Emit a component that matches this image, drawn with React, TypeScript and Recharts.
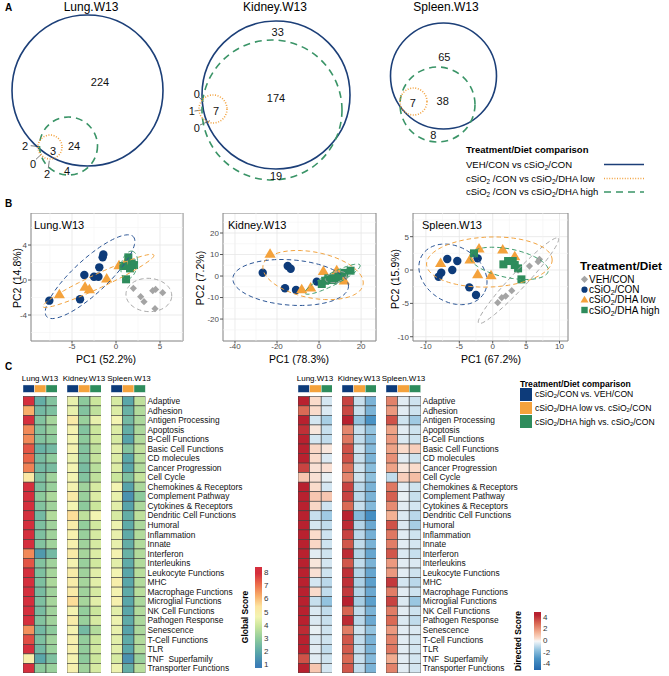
import React from "react";
import {
  ScatterChart,
  Scatter,
  XAxis,
  YAxis,
  CartesianGrid,
  ReferenceLine,
  ReferenceArea,
} from "recharts";

const FONT = '"Liberation Sans", Arial, Helvetica, sans-serif';
const NAVY = "#0D3B7A";
const ORANGE = "#F4A23C";
const GREEN = "#2E8C5C";
const GREY = "#A4A4A4";
const V_BLUE = "#1C3F78";
const V_ORANGE = "#F2A341";
const V_GREEN = "#3A9467";

// ---------- A: Venn diagrams (1 unit = 1 px inside each small chart)
const lungVenn = [
  { x: 87.5, y: 90.5, r: 75.5, set: "veh" },
  { x: 68.5, y: 146, r: 29, set: "high" },
  { x: 50, y: 147, r: 12, set: "low" },
];
const lungCounts = [
  { x: 100, y: 82, t: "224" },
  { x: 74, y: 146, t: "24" },
  { x: 53, y: 151, t: "3" },
  { x: 25, y: 146, t: "2" },
  { x: 33, y: 164, t: "0" },
  { x: 47, y: 174, t: "2" },
  { x: 67, y: 171, t: "4" },
];
const lungLeaders = [
  [30.7, 145.7, 40, 146.7],
  [36, 159.3, 41.7, 154],
  [48.3, 168.3, 49.3, 160.7],
];

const kidneyVenn = [
  { x: 91, y: 95, r: 74, set: "veh" },
  { x: 87, y: 110, r: 70, set: "high" },
  { x: 28, y: 109, r: 14, set: "low" },
];
const kidneyCounts = [
  { x: 92.7, y: 32.3, t: "33" },
  { x: 91, y: 97.7, t: "174" },
  { x: 91, y: 175.7, t: "19" },
  { x: 31, y: 111, t: "7" },
  { x: 11.7, y: 94.3, t: "0" },
  { x: 6.7, y: 111, t: "1" },
  { x: 11.7, y: 128.3, t: "0" },
];
const kidneyLeaders = [
  [14.3, 97.3, 18.3, 101.7],
  [9.5, 111, 16.7, 110],
  [15, 125, 25, 120.7],
];

const spleenVenn = [
  { x: 63.5, y: 76, r: 53, set: "veh" },
  { x: 57.5, y: 104.5, r: 37.5, set: "high" },
  { x: 33.5, y: 101.5, r: 13.5, set: "low" },
];
const spleenCounts = [
  { x: 64.3, y: 56.7, t: "65" },
  { x: 62.7, y: 101, t: "38" },
  { x: 32.7, y: 102.7, t: "7" },
  { x: 53.3, y: 135, t: "8" },
];

// ---------- B: PCA scores
const lungVeh = [
  { x: 1.97, y: -0.95 }, { x: 2.8, y: -1.9 }, { x: 3.18, y: -2.48 }, { x: 4.17, y: -1.22 },
  { x: 4.5, y: -1.07 }, { x: 5.3, y: -1.45 }, { x: 4.43, y: -3.28 },
];
const lungCon = [
  { x: -7.58, y: -2.36 }, { x: -4.09, y: -2.2 }, { x: -3.6, y: 0.57 }, { x: -2.5, y: 0.38 },
  { x: -2.0, y: 0.38 }, { x: -1.9, y: 1.45 }, { x: -1.52, y: 2.59 }, { x: -1.44, y: 2.93 },
];
const lungLow = [
  { x: -6.44, y: -1.6 }, { x: -3.52, y: -0.76 }, { x: -3.03, y: -1.03 }, { x: -1.06, y: 0.19 },
  { x: 0.34, y: 1.71 }, { x: 1.02, y: 1.9 },
];
const lungHigh = [
  { x: 0.83, y: 1.6 }, { x: 1.4, y: 2.59 }, { x: 1.78, y: 1.9 }, { x: 2.05, y: 1.71 },
  { x: 1.14, y: 0.08 }, { x: 1.59, y: 1.33 },
];
const lungEllipses = [
  { x: 3.73, y: -1.71, ux: 2.6, uy: -0.15, vx: 0.1, vy: 1.9, g: "veh" },
  { x: -2.95, y: 0.38, ux: 4.92, uy: 4.57, vx: 1.31, vy: -1.43, g: "con" },
  { x: -2.0, y: -0.1, ux: 6.3, uy: 2.95, vx: 0.33, vy: -0.73, g: "low" },
  { x: 1.5, y: 1.7, ux: 0.3, uy: 1.6, vx: 0.9, vy: -0.1, g: "high" },
];

const kidneyVeh = [
  { x: 5.5, y: -0.5 }, { x: 7.5, y: 0.4 }, { x: 9, y: -1.5 }, { x: 10.5, y: 0.2 },
  { x: 12, y: -1.0 }, { x: 8, y: -2.5 },
];
const kidneyCon = [
  { x: -26.8, y: 1.55 }, { x: -14.9, y: 4.65 }, { x: -13.5, y: 3.4 }, { x: -16.2, y: -5.7 },
  { x: -10.95, y: -6.5 }, { x: -1.1, y: -2.6 },
];
const kidneyLow = [
  { x: -23.3, y: 10.5 }, { x: -8.25, y: -6.05 }, { x: -3.97, y: -5.27 }, { x: 2.06, y: 2.48 },
  { x: 8.4, y: 2.8 }, { x: 12, y: -2 },
];
const kidneyHigh = [
  { x: 1.3, y: -3.7 }, { x: 2.9, y: -2.2 }, { x: 4.4, y: -1.1 }, { x: 6.0, y: -1.86 },
  { x: 8.1, y: -1.1 }, { x: 9.2, y: -0.3 }, { x: 12, y: 1.5 }, { x: 15, y: 2.5 },
];
const kidneyEllipses = [
  { x: 8, y: -0.5, ux: 5, uy: 1.2, vx: 0.6, vy: -2.3, g: "veh" },
  { x: -13.5, y: -3.0, ux: 27.5, uy: -2.0, vx: 0.8, vy: 10.5, g: "con" },
  { x: -2.85, y: 0.45, ux: 23.8, uy: -4.5, vx: 2, vy: 10.5, g: "low" },
  { x: 6.4, y: -1.45, ux: 13.1, uy: 6.55, vx: 1.3, vy: -2.5, g: "high" },
];

const spleenVeh = [
  { x: 0.75, y: -4.9 }, { x: 1.35, y: -4.15 }, { x: 1.95, y: -3.9 }, { x: 2.85, y: -3.1 },
  { x: 3.8, y: 0 }, { x: 5.5, y: 0.6 }, { x: 6.8, y: 1.25 }, { x: 7.0, y: 1.6 },
];
const spleenCon = [
  { x: -6.8, y: 1.65 }, { x: -5.3, y: 1.35 }, { x: -6.05, y: 0 }, { x: -7.7, y: -0.4 },
  { x: -8.1, y: -1.0 }, { x: -3.5, y: -2.6 }, { x: -2.5, y: -3.75 }, { x: -2.25, y: 1.75 },
];
const spleenLow = [
  { x: -7.8, y: 1.1 }, { x: -3.4, y: 1.6 }, { x: -2.05, y: 3.25 }, { x: -2.25, y: -0.6 },
  { x: -0.25, y: -0.75 }, { x: 1.5, y: 3.1 }, { x: 3.3, y: 2.1 },
];
const spleenHigh = [
  { x: -2.8, y: 2.5 }, { x: 1.6, y: 0.85 }, { x: 2.3, y: 1.35 }, { x: 3.0, y: 1.35 },
  { x: 3.3, y: 0.75 }, { x: 3.8, y: 0.25 }, { x: 4.3, y: -1.4 },
];
const spleenEllipses = [
  { x: 3.85, y: -1.6, ux: 5.95, uy: 6.37, vx: 0.87, vy: -0.82, g: "veh" },
  { x: -5.95, y: -0.65, ux: 4.6, uy: -2.9, vx: -2.2, vy: -3.5, g: "con" },
  { x: -0.5, y: 1.2, ux: 9.4, uy: 0.3, vx: 0, vy: 3.75, g: "low" },
  { x: 2.45, y: 1.0, ux: 5.85, uy: -1.2, vx: -0.45, vy: -2.1, g: "high" },
];

// ---------- C: heatmaps
const functions = [
  "Adaptive", "Adhesion", "Antigen Processing", "Apoptosis", "B-Cell Functions",
  "Basic Cell Functions", "CD molecules", "Cancer Progression", "Cell Cycle",
  "Chemokines & Receptors", "Complement Pathway", "Cytokines & Receptors",
  "Dendritic Cell Functions", "Humoral", "Inflammation", "Innate", "Interferon",
  "Interleukins", "Leukocyte Functions", "MHC", "Macrophage Functions",
  "Microglial Functions", "NK Cell Functions", "Pathogen Response", "Senescence",
  "T-Cell Functions", "TLR", "TNF\u00a0 Superfamily", "Transporter Functions",
];

const globalLung = [
  [8, 6.3, 8, 6.8, 6.8, 7.5, 7.3, 6.9, 5.3, 8, 8, 8, 8, 8, 8, 8, 6.8, 7.5, 8, 8, 8, 8, 8, 8, 6.7, 7.6, 8, 5.0, 8],
  [2.2, 2.5, 2.8, 2.8, 2.8, 2.3, 2.6, 2.5, 2.7, 2.7, 3.0, 2.8, 2.5, 2.7, 2.7, 2.8, 1.7, 2.8, 2.7, 2.7, 2.6, 2.7, 2.6, 2.8, 2.5, 2.7, 2.5, 2.0, 3.0],
  [2.8, 2.7, 3.4, 3.2, 3.0, 2.5, 3.0, 2.6, 3.3, 3.2, 3.5, 3.3, 3.6, 3.3, 3.3, 3.3, 2.5, 3.3, 3.4, 3.5, 3.3, 3.4, 3.3, 3.3, 3.0, 3.3, 3.2, 2.7, 3.2],
];
const globalKidney = [
  [4.5, 4.5, 5.2, 4.8, 4.7, 4.8, 4.6, 4.7, 4.7, 4.8, 5.2, 4.7, 5.6, 5.1, 4.9, 4.9, 5.2, 4.8, 5.1, 5.1, 5.2, 5.6, 4.8, 5.1, 4.8, 4.9, 4.9, 4.8, 4.9],
  [3.0, 2.8, 3.2, 2.8, 3.0, 2.8, 2.8, 2.6, 2.8, 3.3, 3.2, 3.0, 3.8, 3.1, 3.2, 3.3, 3.4, 3.2, 3.3, 3.4, 3.3, 3.4, 3.1, 3.2, 2.5, 3.1, 3.1, 3.0, 3.3],
  [4.0, 3.8, 4.5, 4.0, 4.0, 3.8, 3.9, 3.7, 3.8, 4.2, 4.3, 4.0, 4.7, 4.1, 4.2, 4.2, 4.3, 4.1, 4.4, 4.4, 4.2, 4.4, 4.0, 4.2, 3.6, 4.0, 4.1, 4.0, 4.2],
];
const globalSpleen = [
  [4.2, 4.3, 4.7, 4.3, 4.2, 4.4, 4.3, 4.3, 4.0, 4.7, 4.5, 4.4, 4.2, 4.6, 4.5, 4.5, 4.8, 4.4, 4.7, 5.0, 4.8, 4.9, 4.4, 4.6, 4.5, 4.4, 4.4, 4.2, 4.6],
  [2.0, 2.3, 2.5, 2.2, 1.9, 2.8, 2.0, 2.0, 2.7, 1.9, 1.5, 1.9, 2.2, 2.1, 2.1, 2.2, 2.3, 2.1, 2.0, 2.0, 2.1, 2.0, 2.0, 2.1, 1.9, 2.1, 2.0, 1.5, 2.2],
  [3.8, 3.6, 3.5, 3.5, 3.6, 3.8, 3.7, 3.6, 3.9, 3.5, 3.0, 3.5, 3.8, 3.5, 3.6, 3.6, 3.6, 3.6, 3.7, 3.6, 3.7, 3.5, 3.6, 3.5, 3.5, 3.6, 3.6, 3.2, 3.7],
];

const directedLung = [
  [4.5, 3.0, 4.5, 4.2, 4.5, 4.5, 4.5, 3.8, 1.0, 4.5, 4.5, 4.5, 4.5, 4.5, 4.5, 4.5, 4.5, 4.5, 4.5, 4.5, 4.5, 4.5, 4.5, 4.5, 4.3, 4.5, 4.5, 3.5, 4.5],
  [0.5, 0.5, -0.5, 0.3, -0.5, 0.6, 0.5, 0.4, 0.4, 0.5, 1.0, 0.6, -0.7, -0.5, 0.5, 0.6, -0.3, 0.3, 0.4, -0.5, 0.5, -0.7, -0.4, -0.4, -0.2, -0.4, -0.3, -0.3, 1.0],
  [-0.5, -0.4, -1.2, -0.7, -0.8, 0.3, -0.4, 0.4, -0.2, -0.5, 1.0, -0.6, -1.3, -0.8, -0.6, -0.6, -0.6, -0.5, -0.6, -0.9, -0.8, -1.5, -0.8, -0.7, -0.6, -0.6, -0.8, -0.6, -0.5],
];
const directedKidney = [
  [3.8, 3.7, 4.8, 2.4, 2.7, 3.5, 3.5, 2.8, 2.4, 3.8, 3.8, 3.0, 4.8, 4.3, 3.8, 3.4, 4.3, 3.4, 4.2, 4.2, 4.0, 4.6, 3.1, 4.3, 2.6, 3.4, 3.3, 3.0, 3.4],
  [-0.7, -0.7, -1.5, -0.7, -0.8, -0.6, -0.7, -0.6, -0.6, -0.9, -0.9, -0.7, -1.8, -1.0, -0.9, -0.8, -1.0, -0.8, -1.0, -1.1, -1.0, -1.2, -0.8, -0.9, -0.6, -0.8, -0.8, -0.7, -0.8],
  [-2.0, -2.0, -3.0, -1.5, -1.8, -1.8, -2.0, -1.7, -1.6, -2.0, -2.0, -1.8, -3.2, -2.3, -2.1, -2.0, -2.4, -2.0, -2.4, -2.6, -2.3, -2.6, -2.0, -2.3, -1.5, -2.0, -2.0, -1.8, -2.0],
];
const directedSpleen = [
  [2.5, 2.0, 3.5, 1.8, 2.0, 1.8, 2.2, 1.8, -0.8, 2.7, 3.2, 2.3, 1.5, 3.5, 2.7, 2.6, 3.4, 2.0, 2.0, 4.0, 2.6, 3.8, 2.6, 3.0, 2.0, 2.5, 2.7, 1.6, 2.5],
  [-0.3, -0.3, -0.6, -0.3, -0.4, 0.5, -0.3, 0.3, 0.8, -0.3, -0.2, -0.3, -0.4, -0.4, -0.3, -0.3, -0.4, -0.3, -0.3, -0.5, -0.3, -0.4, -0.3, -0.4, -0.3, -0.3, -0.3, -0.3, -0.3],
  [-0.6, -0.6, -1.3, -0.6, -0.6, 0.8, -0.6, 0.5, 1.2, -0.6, -0.7, -0.5, -0.9, -1.2, -0.6, -0.5, -0.7, -0.4, -0.6, -0.9, -0.6, -1.4, -0.6, -0.8, -0.4, -0.5, -0.5, -0.5, -0.5],
];

const globalTicks = [8, 7, 6, 5, 4, 3, 2, 1];
const directedTicks = [4, 2, 0, -2, -4];

// ---------- colour ramps
const spectralStops: [number, string][] = [
  [1, "#3B7DB6"], [2, "#5AA7A9"], [3, "#8DCA9C"], [4, "#CBE69C"], [4.7, "#F3F4B2"],
  [5.5, "#FDE4A0"], [6.3, "#F8AE6A"], [7.2, "#EC6B4A"], [8, "#D52F3D"],
];
const rdbuStops: [number, string][] = [
  [-5, "#2166AC"], [-3, "#4A93C5"], [-1.5, "#93C3DF"], [-0.5, "#D4E6F1"], [0, "#F6F6F6"],
  [0.5, "#FADBCB"], [1.5, "#F3B194"], [3, "#DA6A55"], [4.5, "#B8212F"],
];

function hex(c: string) {
  return [1, 3, 5].map((i) => parseInt(c.slice(i, i + 2), 16));
}
function ramp(stops: [number, string][], v: number) {
  if (v <= stops[0][0]) return stops[0][1];
  for (let i = 1; i < stops.length; i++) {
    if (v <= stops[i][0]) {
      const t = (v - stops[i - 1][0]) / (stops[i][0] - stops[i - 1][0]);
      const a = hex(stops[i - 1][1]);
      const b = hex(stops[i][1]);
      return `rgb(${a.map((x, k) => Math.round(x + (b[k] - x) * t)).join(",")})`;
    }
  }
  return stops[stops.length - 1][1];
}
const globalColor = (v: number) => ramp(spectralStops, v);
const directedColor = (v: number) => ramp(rdbuStops, v);

// ---------- small helpers
function T({ x, y, children, size = 10, bold = false, anchor = "start", rotate = 0, color = "#000" }: any) {
  const tx = anchor === "middle" ? "-50%" : anchor === "end" ? "-100%" : "0";
  return (
    <div
      style={{
        position: "absolute",
        left: x,
        top: y,
        fontSize: size,
        fontWeight: bold ? 700 : 400,
        color,
        whiteSpace: "pre",
        lineHeight: 1,
        transform: `translate(${tx},-50%)${rotate ? ` rotate(${rotate}deg)` : ""}`,
        transformOrigin: anchor === "middle" ? "50% 50%" : "0 50%",
      }}
    >
      {children}
    </div>
  );
}
const S2 = () => (
  <span style={{ fontSize: "0.68em", verticalAlign: "-0.25em", lineHeight: 0 }}>2</span>
);
const Si = () => (
  <>
    cSiO
    <S2 />
  </>
);

const vennStroke: Record<string, any> = {
  veh: { stroke: V_BLUE, strokeWidth: 1.6 },
  low: { stroke: V_ORANGE, strokeWidth: 1.6, strokeDasharray: "1 1.6" },
  high: { stroke: V_GREEN, strokeWidth: 1.6, strokeDasharray: "7 5" },
};

function Venn({ left, width, sets, counts, leaders }: any) {
  const H = 192;
  return (
    <div style={{ position: "absolute", left, top: 0 }}>
      <ScatterChart width={width} height={H} margin={{ top: 0, right: 0, bottom: 0, left: 0 }}>
        <XAxis type="number" dataKey="x" domain={[0, width]} hide allowDataOverflow />
        <YAxis type="number" dataKey="y" domain={[0, H]} reversed hide allowDataOverflow />
        {sets.map((s: any) => (
          <Scatter
            key={s.set}
            data={[s]}
            isAnimationActive={false}
            shape={(p: any) => (
              <circle cx={p.cx} cy={p.cy} r={p.payload.r} fill="none" {...vennStroke[p.payload.set]} />
            )}
          />
        ))}
        {leaders.map((l: number[], i: number) => (
          <ReferenceLine
            key={i}
            segment={[{ x: l[0], y: l[1] }, { x: l[2], y: l[3] }]}
            stroke="#6B6B6B"
            strokeWidth={0.9}
          />
        ))}
        <Scatter
          data={counts}
          isAnimationActive={false}
          shape={(p: any) => (
            <text x={p.cx} y={p.cy} textAnchor="middle" dominantBaseline="central" fontSize={11} fill="#111">
              {p.payload.t}
            </text>
          )}
        />
      </ScatterChart>
    </div>
  );
}

const markCircle = (p: any) => <circle cx={p.cx} cy={p.cy} r={4.2} fill={NAVY} />;
const markTri = (p: any) => (
  <polygon
    points={`${p.cx},${p.cy - 5.3} ${p.cx - 5.6},${p.cy + 4.2} ${p.cx + 5.6},${p.cy + 4.2}`}
    fill={ORANGE}
  />
);
const markSquare = (p: any) => <rect x={p.cx - 4} y={p.cy - 4} width={8} height={8} fill={GREEN} />;
const markDiamond = (p: any) => (
  <polygon
    points={`${p.cx},${p.cy - 3.6} ${p.cx + 3.6},${p.cy} ${p.cx},${p.cy + 3.6} ${p.cx - 3.6},${p.cy}`}
    fill={GREY}
  />
);
const groupColor: Record<string, string> = { veh: "#A9A9A9", con: "#2B5595", low: "#F2A33E", high: "#3C9A6B" };

function Pca({ left, top, yw, pw, ph, xDom, yDom, xTicks, yTicks, xMinor, yMinor, veh, con, low, high, ellipses }: any) {
  const kx = pw / (xDom[1] - xDom[0]);
  const ky = ph / (yDom[1] - yDom[0]);
  const ellShape = (p: any) => {
    const e = p.payload;
    const pts: string[] = [];
    for (let i = 0; i <= 80; i++) {
      const t = (i / 80) * Math.PI * 2;
      const dx = e.ux * Math.cos(t) + e.vx * Math.sin(t);
      const dy = e.uy * Math.cos(t) + e.vy * Math.sin(t);
      pts.push(`${(p.cx + dx * kx).toFixed(2)},${(p.cy - dy * ky).toFixed(2)}`);
    }
    return (
      <path d={`M${pts.join("L")}Z`} fill="none" stroke={groupColor[e.g]} strokeWidth={1} strokeDasharray="4.5 3" />
    );
  };
  const tickStyle = { fontSize: 8, fill: "#4D4D4D" };
  return (
    <div style={{ position: "absolute", left, top }}>
      <ScatterChart width={yw + pw + 2} height={ph + 14} margin={{ top: 0, right: 2, bottom: 0, left: 0 }}>
        <CartesianGrid stroke="#E6E6E6" strokeWidth={0.8} />
        {xMinor.map((v: number) => (
          <ReferenceLine key={"xm" + v} x={v} stroke="#F3F3F3" strokeWidth={0.6} />
        ))}
        {yMinor.map((v: number) => (
          <ReferenceLine key={"ym" + v} y={v} stroke="#F3F3F3" strokeWidth={0.6} />
        ))}
        <XAxis
          type="number"
          dataKey="x"
          domain={xDom}
          ticks={xTicks}
          interval={0}
          allowDataOverflow
          height={14}
          tickSize={2.5}
          tickMargin={0}
          axisLine={false}
          tickLine={{ stroke: "#555" }}
          tick={tickStyle}
        />
        <YAxis
          type="number"
          dataKey="y"
          domain={yDom}
          ticks={yTicks}
          interval={0}
          allowDataOverflow
          width={yw}
          tickSize={3}
          tickMargin={1}
          axisLine={false}
          tickLine={{ stroke: "#555" }}
          tick={tickStyle}
        />
        <Scatter data={veh} shape={markDiamond} isAnimationActive={false} />
        <Scatter data={con} shape={markCircle} isAnimationActive={false} />
        <Scatter data={low} shape={markTri} isAnimationActive={false} />
        <Scatter data={high} shape={markSquare} isAnimationActive={false} />
        <Scatter data={ellipses} shape={ellShape} isAnimationActive={false} />
        <ReferenceArea
          x1={xDom[0]}
          x2={xDom[1]}
          y1={yDom[0]}
          y2={yDom[1]}
          fill="none"
          stroke="#8A8A8A"
          strokeWidth={1}
        />
      </ScatterChart>
    </div>
  );
}

const headColors = [NAVY, ORANGE, GREEN];
const rowIdx = functions.map((_, i) => i);

const rowLabelTick = (p: any) => (
  <text x={p.x} y={p.y} dy="0.35em" fontSize={8.4} fill="#111" textAnchor="start" fontFamily={FONT}>
    {functions[p.payload.value] ?? ""}
  </text>
);

function HeatBlock({ left, rowTop, cw, rh, values, colorFn, labels, labelW = 0 }: any) {
  const cells = values.flatMap((col: number[], c: number) => col.map((v, r) => ({ c, r, v })));
  const heads = headColors.map((fill, c) => ({ c, r: -1.3, fill }));
  const w = 3 * cw + (labels ? labelW : 0);
  const h = 30.5 * rh;
  return (
    <div style={{ position: "absolute", left, top: rowTop - 1.5 * rh }}>
      <ScatterChart width={w} height={h} margin={{ top: 0, right: 0, bottom: 0, left: 0 }}>
        <XAxis type="number" dataKey="c" domain={[-0.5, 2.5]} hide allowDataOverflow />
        <YAxis
          type="number"
          dataKey="r"
          domain={[-2, 28.5]}
          reversed
          allowDataOverflow
          orientation="right"
          hide={!labels}
          width={labelW}
          ticks={rowIdx}
          interval={0}
          tick={rowLabelTick}
          tickSize={0}
          tickMargin={2}
          axisLine={false}
          tickLine={false}
        />
        <Scatter
          data={cells}
          isAnimationActive={false}
          shape={(p: any) => (
            <rect
              x={p.cx - cw / 2}
              y={p.cy - rh / 2}
              width={cw}
              height={rh}
              fill={colorFn(p.payload.v)}
              stroke="#3A3A3A"
              strokeWidth={0.6}
            />
          )}
        />
        <Scatter
          data={heads}
          isAnimationActive={false}
          shape={(p: any) => (
            <rect
              x={p.cx - cw / 2}
              y={p.cy - 3.7}
              width={cw}
              height={7.4}
              fill={p.payload.fill}
              stroke="#FFFFFF"
              strokeWidth={0.4}
            />
          )}
        />
      </ScatterChart>
    </div>
  );
}

function ColorBar({ x, top, bottom, vTop, vBottom, stops, ticks, id }: any) {
  const h = bottom - top;
  const frac = (v: number) => (vTop - v) / (vTop - vBottom);
  const gradStops = stops
    .filter((s: any) => s[0] <= vTop && s[0] >= vBottom)
    .map((s: any) => ({ off: frac(s[0]), color: s[1] }))
    .sort((a: any, b: any) => a.off - b.off);
  return (
    <>
      <svg style={{ position: "absolute", left: x, top }} width={7} height={h}>
        <defs>
          <linearGradient id={id} x1="0" y1="0" x2="0" y2="1">
            {gradStops.map((s: any, i: number) => (
              <stop key={i} offset={s.off} stopColor={s.color} />
            ))}
          </linearGradient>
        </defs>
        <rect x={0} y={0} width={7} height={h} fill={`url(#${id})`} />
      </svg>
      {ticks.map((v: number) => (
        <T key={v} x={x + 9} y={top + frac(v) * h} size={8} color="#333">
          {String(v)}
        </T>
      ))}
    </>
  );
}

export default function App() {
  const rh = 9.54;
  const rowTop = 396;
  return (
    <div
      style={{
        position: "relative",
        width: 669,
        height: 676,
        background: "#fff",
        fontFamily: FONT,
        overflow: "hidden",
      }}
    >
      <style>{`body{margin:0}`}</style>

      {/* ---------- A */}
      <T x={5} y={8} size={10} bold>A</T>
      <T x={91} y={7} size={12} anchor="middle">Lung.W13</T>
      <T x={275} y={7} size={12} anchor="middle">Kidney.W13</T>
      <T x={446} y={7} size={12} anchor="middle">Spleen.W13</T>
      <Venn left={0} width={185} sets={lungVenn} counts={lungCounts} leaders={lungLeaders} />
      <Venn left={185} width={180} sets={kidneyVenn} counts={kidneyCounts} leaders={kidneyLeaders} />
      <Venn left={380} width={130} sets={spleenVenn} counts={spleenCounts} leaders={[]} />

      <T x={466} y={149.5} size={9.5} bold>Treatment/Diet comparison</T>
      <T x={466} y={164.5} size={9.5}>VEH/CON vs <Si />/CON</T>
      <T x={466} y={178.5} size={9.5}><Si /> /CON vs <Si />/DHA low</T>
      <T x={466} y={192} size={9.5}><Si /> /CON vs <Si />/DHA high</T>
      <svg style={{ position: "absolute", left: 600, top: 158 }} width={48} height={40}>
        <line x1={4} x2={44} y1={6.5} y2={6.5} {...vennStroke.veh} />
        <line x1={4} x2={44} y1={20.5} y2={20.5} {...vennStroke.low} />
        <line x1={4} x2={44} y1={34} y2={34} {...vennStroke.high} />
      </svg>

      {/* ---------- B */}
      <T x={5} y={204} size={10} bold>B</T>
      <Pca
        left={0}
        top={213}
        yw={31}
        pw={152}
        ph={128}
        xDom={[-9.66, 7.61]}
        yDom={[-6.97, 7.66]}
        xTicks={[-5, 0, 5]}
        yTicks={[-4, 0, 4]}
        xMinor={[-7.5, -2.5, 2.5, 7.5]}
        yMinor={[-6, -2, 2, 6]}
        veh={lungVeh}
        con={lungCon}
        low={lungLow}
        high={lungHigh}
        ellipses={lungEllipses}
      />
      <Pca
        left={189}
        top={213}
        yw={34}
        pw={153}
        ph={128}
        xDom={[-45.7, 27.1]}
        yDom={[-30.2, 29.3]}
        xTicks={[-40, -20, 0, 20]}
        yTicks={[-20, -10, 0, 10, 20]}
        xMinor={[-30, -10, 10]}
        yMinor={[-25, -15, -5, 5, 15, 25]}
        veh={kidneyVeh}
        con={kidneyCon}
        low={kidneyLow}
        high={kidneyHigh}
        ellipses={kidneyEllipses}
      />
      <Pca
        left={380}
        top={213}
        yw={33}
        pw={155}
        ph={128}
        xDom={[-11.93, 11.27]}
        yDom={[-10.64, 8.55]}
        xTicks={[-10, -5, 0, 5, 10]}
        yTicks={[-10, -5, 0, 5]}
        xMinor={[-7.5, -2.5, 2.5, 7.5]}
        yMinor={[-7.5, -2.5, 2.5, 7.5]}
        veh={spleenVeh}
        con={spleenCon}
        low={spleenLow}
        high={spleenHigh}
        ellipses={spleenEllipses}
      />
      <T x={34} y={225} size={11}>Lung.W13</T>
      <T x={228} y={225} size={11}>Kidney.W13</T>
      <T x={422} y={225} size={11}>Spleen.W13</T>
      <T x={106} y={358.5} size={10.5} anchor="middle">PC1 (52.2%)</T>
      <T x={299} y={358.5} size={10.5} anchor="middle">PC1 (78.3%)</T>
      <T x={491} y={358.5} size={10.5} anchor="middle">PC1 (67.2%)</T>
      <T x={17} y={278} size={10.5} anchor="middle" rotate={-90}>PC2 (14.8%)</T>
      <T x={200} y={278} size={10.5} anchor="middle" rotate={-90}>PC2 (7.2%)</T>
      <T x={395} y={279} size={10.5} anchor="middle" rotate={-90}>PC2 (15.9%)</T>

      <T x={580} y={267} size={11.8} bold>Treatment/Diet</T>
      <svg style={{ position: "absolute", left: 579, top: 273 }} width={12} height={44}>
        {markDiamond({ cx: 5.5, cy: 6.3 })}
        <circle cx={5.5} cy={16.7} r={3.1} fill={NAVY} />
        <polygon points="5.5,22.8 1.5,29.6 9.5,29.6" fill={ORANGE} />
        <rect x={2.3} y={33.8} width={6.4} height={6.4} fill={GREEN} />
      </svg>
      <T x={589} y={279.5} size={10}>VEH/CON</T>
      <T x={589} y={290} size={10}><Si />/CON</T>
      <T x={589} y={300.3} size={10}><Si />/DHA low</T>
      <T x={589} y={310.5} size={10}><Si />/DHA high</T>

      {/* ---------- C */}
      <T x={5} y={367} size={10} bold>C</T>
      <T x={40} y={378.5} size={8} anchor="middle">Lung.W13</T>
      <T x={84} y={378.5} size={8} anchor="middle">Kidney.W13</T>
      <T x={129} y={378.5} size={8} anchor="middle">Spleen.W13</T>
      <HeatBlock left={22.7} rowTop={rowTop} cw={11.5} rh={rh} values={globalLung} colorFn={globalColor} />
      <HeatBlock left={66.7} rowTop={rowTop} cw={11.5} rh={rh} values={globalKidney} colorFn={globalColor} />
      <HeatBlock
        left={111}
        rowTop={rowTop}
        cw={11.5}
        rh={rh}
        values={globalSpleen}
        colorFn={globalColor}
        labels
        labelW={110}
      />

      <T x={315} y={378.5} size={8} anchor="middle">Lung.W13</T>
      <T x={359} y={378.5} size={8} anchor="middle">Kidney.W13</T>
      <T x={403.5} y={378.5} size={8} anchor="middle">Spleen.W13</T>
      <HeatBlock left={297.7} rowTop={rowTop + 0.7} cw={11.6} rh={rh} values={directedLung} colorFn={directedColor} />
      <HeatBlock left={341.7} rowTop={rowTop + 0.7} cw={11.6} rh={rh} values={directedKidney} colorFn={directedColor} />
      <HeatBlock
        left={386}
        rowTop={rowTop + 0.7}
        cw={11.6}
        rh={rh}
        values={directedSpleen}
        colorFn={directedColor}
        labels
        labelW={110}
      />

      <ColorBar x={255} top={566.7} bottom={668.3} vTop={8.5} vBottom={0.75} stops={spectralStops} ticks={globalTicks} id="gsc" />
      <T x={245} y={617} size={8.5} bold anchor="middle" rotate={-90}>Global Score</T>
      <ColorBar x={534} top={611.7} bottom={670} vTop={5} vBottom={-5} stops={rdbuStops} ticks={directedTicks} id="dsc" />
      <T x={518} y={641} size={8.5} bold anchor="middle" rotate={-90}>Directed Score</T>

      <T x={520} y={383.5} size={8.6} bold>Treatment/Diet comparison</T>
      <div style={{ position: "absolute", left: 520, top: 388, width: 12, height: 12.5, background: NAVY }} />
      <div style={{ position: "absolute", left: 520, top: 401.5, width: 12, height: 12.5, background: ORANGE }} />
      <div style={{ position: "absolute", left: 520, top: 415, width: 12, height: 12.5, background: GREEN }} />
      <T x={535} y={394.3} size={8.6}><Si />/CON vs. VEH/CON</T>
      <T x={535} y={408} size={8.6}><Si />/DHA low vs. <Si />/CON</T>
      <T x={535} y={421.5} size={8.6}><Si />/DHA high vs. <Si />/CON</T>
    </div>
  );
}
